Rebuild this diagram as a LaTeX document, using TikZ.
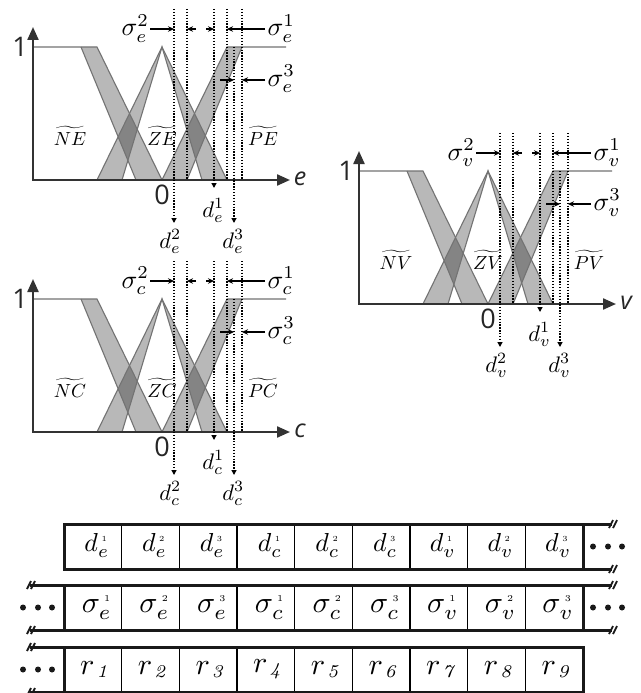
\documentclass[tikz,border=0pt]{standalone}
\usepackage{fontspec}
\newfontfamily\axfont{Open Sans}
\usetikzlibrary{arrows.meta}
\newcommand{\myfs}[1]{\fontsize{#1}{#1}\selectfont}
\newcommand{\tinysup}[1]{\hbox{\myfs{3.0}#1}}
\tikzset{
  band/.style={fill=black,fill opacity=0.28},
  mfline/.style={draw=black!55,line width=1.1pt},
  axisln/.style={draw=black!80,line width=2.2pt,{Triangle[length=13pt,width=11pt]}-{Triangle[length=13pt,width=11pt]}},
  dotln/.style={draw=black,line width=1.3pt,dash pattern=on 1.3pt off 1.6pt},
  dtip/.style={-{Triangle[length=5pt,width=5pt]}},
  sarr/.style={draw=black,line width=1.2pt,-{Stealth[length=6pt,width=5.5pt]}},
  lbl/.style={inner sep=0pt,scale=2.6,transform shape},
  dlbl/.style={inner sep=0pt,scale=2.25,transform shape},
  tlbl/.style={inner sep=0pt,scale=1.9,transform shape},
  numlbl/.style={inner sep=0pt,font=\axfont\myfs{27},text=black!85},
  axlbl/.style={inner sep=0pt,font=\axfont\itshape\myfs{25},text=black!85},
  cell/.style={draw=black,line width=1.1pt,minimum width=57.667pt,minimum height=45pt,inner sep=0pt},
  ctext/.style={inner sep=0pt,scale=2.6,transform shape},
  stext/.style={inner sep=0pt,scale=3.0,transform shape},
  rtext/.style={inner sep=0pt,scale=3.0,transform shape},
  border/.style={draw=black!90,line width=3pt},
  brk/.style={draw=black!90,line width=1.8pt},
}
\newcommand{\mfchart}[6]{%
\begin{scope}[shift={(#2,-#3)}]
  % membership bands
  \fill[band] (48,133) -- (64,133) -- (129,0) -- (103,0) -- cycle;
  \fill[band] (64,0) -- (129,133) -- (89,0) -- cycle;
  \fill[band] (129,133) -- (194,0) -- (169,0) -- cycle;
  \fill[band] (129,0) -- (194,133) -- (209,133) -- (154,0) -- cycle;
  \draw[mfline] (0,133) -- (64,133) -- (129,0);
  \draw[mfline] (48,133) -- (103,0);
  \draw[mfline] (64,0) -- (129,133) -- (194,0);
  \draw[mfline] (89,0) -- (129,133) -- (169,0);
  \draw[mfline] (129,0) -- (194,133) -- (253,133);
  \draw[mfline] (154,0) -- (209,133);
  % axes
  \coordinate (#1-o) at (0,0);
  \coordinate (#1-yt) at (0,153);
  \coordinate (#1-xt) at (257,0);
  \draw[axisln] (#1-yt) -- (#1-o) -- (#1-xt);
  % dotted lines
  \coordinate (#1-l1t) at (141,171); \coordinate (#1-l1b) at (141,-43);
  \coordinate (#1-l2t) at (154,171); \coordinate (#1-l2b) at (154,0);
  \coordinate (#1-l3t) at (181,171); \coordinate (#1-l3b) at (181,-8);
  \coordinate (#1-l4t) at (194,171); \coordinate (#1-l4b) at (194,0);
  \coordinate (#1-l5t) at (201,133); \coordinate (#1-l5b) at (201,-43);
  \coordinate (#1-l6t) at (209,171); \coordinate (#1-l6b) at (209,0);
  \draw[dotln,dtip] (#1-l1t) -- (#1-l1b);
  \draw[dotln] (#1-l2t) -- (#1-l2b);
  \draw[dotln,dtip] (#1-l3t) -- (#1-l3b);
  \draw[dotln] (#1-l4t) -- (#1-l4b);
  \draw[dotln,dtip] (#1-l5t) -- (#1-l5b);
  \draw[dotln] (#1-l6t) -- (#1-l6b);
  % sigma arrows
  \coordinate (#1-a1s) at (117,151); \coordinate (#1-a1e) at (141,151);
  \coordinate (#1-a2s) at (163,151); \coordinate (#1-a2e) at (154,151);
  \coordinate (#1-a3s) at (173,151); \coordinate (#1-a3e) at (181,151);
  \coordinate (#1-a4s) at (232,151); \coordinate (#1-a4e) at (194,151);
  \coordinate (#1-a5s) at (187,100); \coordinate (#1-a5e) at (201,100);
  \coordinate (#1-a6s) at (232,100); \coordinate (#1-a6e) at (209,100);
  \draw[sarr] (#1-a1s) -- (#1-a1e);
  \draw[sarr] (#1-a2s) -- (#1-a2e);
  \draw[sarr] (#1-a3s) -- (#1-a3e);
  \draw[sarr] (#1-a4s) -- (#1-a4e);
  \draw[sarr] (#1-a5s) -- (#1-a5e);
  \draw[sarr] (#1-a6s) -- (#1-a6e);
  % labels
  \node[lbl,anchor=base west] (#1-s2) at (88,144) {$\sigma_{#4}^{2}$};
  \node[lbl,anchor=base west] (#1-s1) at (234,144) {$\sigma_{#4}^{1}$};
  \node[lbl,anchor=base west] (#1-s3) at (234,94) {$\sigma_{#4}^{3}$};
  \node[dlbl,anchor=base west] (#1-d1) at (169,-37) {$d_{#4}^{1}$};
  \node[dlbl,anchor=base west] (#1-d2) at (126,-68) {$d_{#4}^{2}$};
  \node[dlbl,anchor=base west] (#1-d3) at (189,-68) {$d_{#4}^{3}$};
  \node[tlbl,anchor=base] (#1-n) at (37,35) {$\widetilde{N#6}$};
  \node[tlbl,anchor=base] (#1-z) at (129,35) {$\widetilde{Z#6}$};
  \node[tlbl,anchor=base] (#1-p) at (230,35) {$\widetilde{P#6}$};
  \node[numlbl] (#1-one) at (-13,133) {1};
  \node[numlbl] (#1-zero) at (129,-15) {0};
  \node[axlbl] (#1-ax) at (267,1) {#5};
\end{scope}}
\begin{document}
\begin{tikzpicture}[x=1pt,y=1pt]
\useasboundingbox[fill=white] (0,0) rectangle (640,-693);
\mfchart{ce}{33}{180}{e}{e}{E}
\mfchart{cc}{33}{432}{c}{c}{C}
\mfchart{cv}{359}{304}{v}{v}{V}
% table cells
\foreach \s [count=\i] in {e,c,v}{
  \foreach \k in {1,2,3}{
    \pgfmathsetmacro\cx{64+57.667*(3*(\i-1)+\k-0.5)}
    \pgfmathtruncatemacro\n{3*(\i-1)+\k}
    \node[cell] (dc-\n) at (\cx,-546.5) {};
    \node[ctext] (dt-\n) at ([xshift=4pt,yshift=1pt]dc-\n.center) {$d_{\s}^{\,\tinysup{\k}}$};
    \node[cell] (sc-\n) at (\cx,-607.5) {};
    \node[stext] (st-\n) at ([xshift=4pt]sc-\n.center) {$\sigma_{\s}^{\,\tinysup{\k}}$};
    \node[cell] (rc-\n) at (\cx,-669.5) {};
    \node[rtext] (rt-\n) at ([xshift=1pt]rc-\n.center) {$r$\kern0.7pt\raisebox{-1pt}{\myfs{6}\itshape\n}};
  }
}
% row 1 border
\coordinate (r1a) at (612,-524); \coordinate (r1b) at (64,-524);
\coordinate (r1c) at (64,-569); \coordinate (r1d) at (612,-569);
\coordinate (r1e) at (583,-524); \coordinate (r1f) at (583,-569);
\draw[border] (r1a) -- (r1b) -- (r1c) -- (r1d);
\draw[border] (r1e) -- (r1f);
% row 2 border
\coordinate (r2a) at (30,-585); \coordinate (r2b) at (612,-585);
\coordinate (r2c) at (30,-630); \coordinate (r2d) at (612,-630);
\coordinate (r2e) at (64,-585); \coordinate (r2f) at (64,-630);
\coordinate (r2g) at (583,-585); \coordinate (r2h) at (583,-630);
\draw[border] (r2a) -- (r2b);
\draw[border] (r2c) -- (r2d);
\draw[border] (r2e) -- (r2f);
\draw[border] (r2g) -- (r2h);
% row 3 border
\coordinate (r3a) at (30,-647); \coordinate (r3b) at (583,-647);
\coordinate (r3c) at (583,-692); \coordinate (r3d) at (30,-692);
\coordinate (r3e) at (64,-647); \coordinate (r3f) at (64,-692);
\draw[border] (r3a) -- (r3b) -- (r3c) -- (r3d);
\draw[border] (r3e) -- (r3f);
% break marks
\foreach \p in {r1a,r1d,r2b,r2d}{
  \draw[brk,shift={(\p)}] (-3,-4) -- (1,4) (1,-4) -- (5,4);
}
\foreach \p in {r2a,r2c,r3a,r3d}{
  \draw[brk,shift={(\p)}] (-3,-4) -- (1,4) (1,-4) -- (5,4);
}
% ellipsis dots
\foreach \y in {-546.5,-607.5}{
  \foreach \x in {593,608,622}{\fill[black!90] (\x,\y) circle (3);}
}
\foreach \y in {-607.5,-669.5}{
  \foreach \x in {23,38,52}{\fill[black!90] (\x,\y) circle (3);}
}
\end{tikzpicture}
\end{document}
